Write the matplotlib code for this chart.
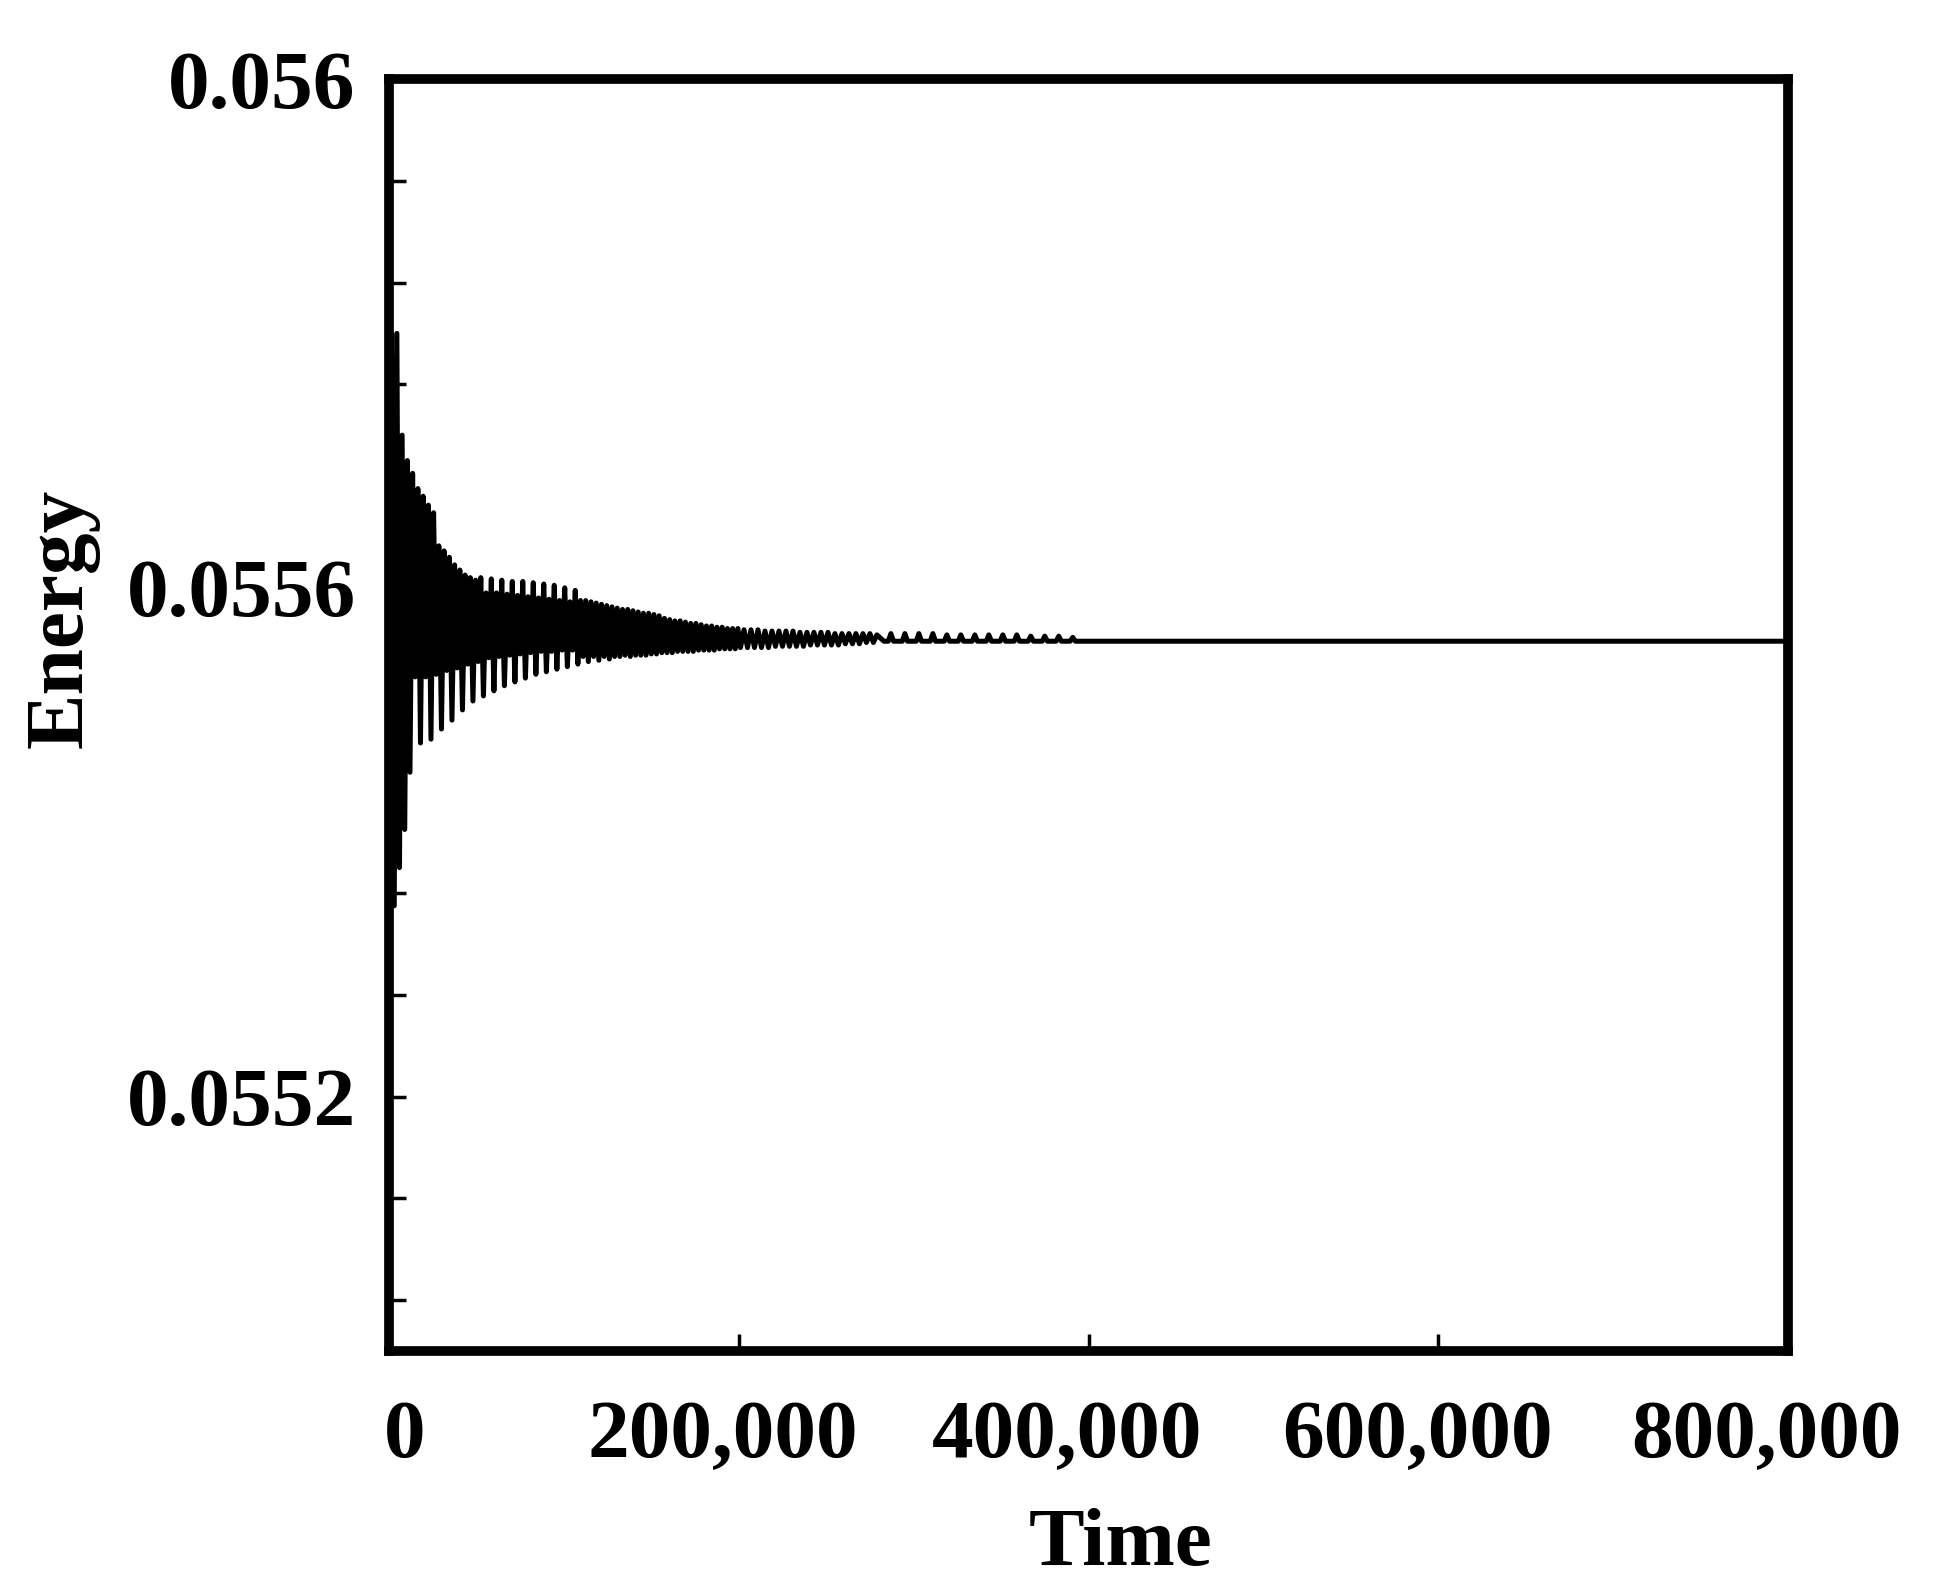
import numpy as np
import matplotlib
matplotlib.use("Agg")
import matplotlib.pyplot as plt
import matplotlib.transforms as mtransforms

plt.rcParams['path.simplify'] = False
plt.rcParams['font.family'] = ['Liberation Serif', 'DejaVu Serif']

# ---- data (time in thousands, energy) ----
time_a_k = [0, 1.5, 3, 4.5, 6, 7.5, 9, 10.5, 12, 13.5, 15, 16.5, 18, 19.5, 21, 22.5, 24, 25.5,
            27, 28.5, 30, 31.5, 33, 34.5, 36, 37.5, 39, 40.5, 42, 43.5, 45, 46.5, 48, 49.5,
            51, 52.5, 54, 55.5, 57, 58.5, 60, 61.5, 63, 64.5, 66, 67.5, 69, 70.5, 72, 73.5,
            75, 76.5, 78, 79.5, 81, 82.5, 84, 85.5, 87, 88.5, 90, 91.5, 93, 94.5, 96, 97.5,
            99, 100.5, 102, 103.5, 105, 106.5, 108, 109.5, 111, 112.5, 114, 115.5, 117, 118.5,
            120, 121.5, 123, 124.5, 126, 127.5, 129]
energy_a = [0.055557, 0.055800, 0.055350, 0.055800, 0.055380, 0.055720, 0.055410, 0.055700, 0.055455, 0.055690,
            0.055530, 0.055678, 0.055478, 0.055672, 0.055530, 0.055665, 0.055481, 0.055659, 0.055532, 0.055633,
            0.055489, 0.055629, 0.055535, 0.055624, 0.055496, 0.055618, 0.055537, 0.055614, 0.055504, 0.055610,
            0.055540, 0.055608, 0.055511, 0.055606, 0.055542, 0.055608, 0.055515, 0.055596, 0.055545, 0.055607,
            0.055519, 0.055596, 0.055546, 0.055606, 0.055523, 0.055595, 0.055547, 0.055605, 0.055526, 0.055594,
            0.055548, 0.055605, 0.055529, 0.055593, 0.055549, 0.055604, 0.055532, 0.055592, 0.055550, 0.055603,
            0.055534, 0.055591, 0.055550, 0.055602, 0.055536, 0.055590, 0.055551, 0.055600, 0.055538, 0.055589,
            0.055551, 0.055598, 0.055540, 0.055590, 0.055546, 0.055590, 0.055542, 0.055589, 0.055546, 0.055588,
            0.055543, 0.055587, 0.055546, 0.055586, 0.055544, 0.055585, 0.055546]

time_b_k = [130.5, 132, 133.5, 135, 136.5, 138, 139.5, 141, 142.5, 144, 145.5, 147, 148.5, 150,
            151.5, 153, 154.5, 156, 157.5, 159, 160.5, 162, 163.5, 165, 166.5, 168, 169.5, 171,
            172.5, 174, 175.5, 177, 178.5, 180, 181.5, 183, 184.5, 186, 187.5, 189, 190.5, 192,
            193.5, 195, 196.5, 198, 199.5]
energy_b = [0.055584, 0.055546, 0.055583, 0.055547, 0.055583, 0.055546, 0.055582, 0.055547, 0.055581, 0.055547,
            0.055580, 0.055547, 0.055580, 0.055548, 0.055579, 0.055548, 0.055578, 0.055549, 0.055576, 0.055549,
            0.055575, 0.055549, 0.055574, 0.055550, 0.055574, 0.055550, 0.055573, 0.055550, 0.055572, 0.055550,
            0.055572, 0.055551, 0.055571, 0.055551, 0.055570, 0.055551, 0.055570, 0.055551, 0.055569, 0.055552,
            0.055569, 0.055552, 0.055568, 0.055552, 0.055568, 0.055552, 0.055568]

time_c_k = [201, 203, 205, 207, 209, 211, 213, 215, 217, 219, 221, 223, 225, 227, 229, 231, 233, 235,
            237, 239, 241, 243, 245, 247, 249, 251, 253, 255, 257, 259, 261, 263, 265, 267, 269, 271,
            273, 275, 277, 279]
energy_c = [0.055553, 0.055567, 0.055553, 0.055567, 0.055553, 0.055567, 0.055553, 0.055566, 0.055553, 0.055566,
            0.055554, 0.055566, 0.055554, 0.055566, 0.055554, 0.055566, 0.055554, 0.055565, 0.055554, 0.055565,
            0.055555, 0.055565, 0.055555, 0.055565, 0.055555, 0.055565, 0.055555, 0.055564, 0.055555, 0.055564,
            0.055556, 0.055564, 0.055556, 0.055564, 0.055556, 0.055564, 0.055557, 0.055564, 0.055557, 0.055563]

time_d_k = [283, 285.5, 287, 288.5, 293.5, 295, 296.5, 301.5, 303, 304.5, 309.5, 311, 312.5,
            317.5, 319, 320.5, 325.5, 327, 328.5, 333.5, 335, 336.5, 341.5, 343, 344.5,
            349.5, 351, 352.5, 357.5, 359, 360.5, 365.5, 367, 368.5, 373.5, 375, 376.5,
            381.5, 383, 384.5, 389.5, 391, 392.5, 800]
energy_d = [0.055558, 0.055558, 0.055564, 0.055558, 0.055558, 0.055564, 0.055558, 0.055558, 0.055564, 0.055558,
            0.055558, 0.055564, 0.055558, 0.055558, 0.055563, 0.055558, 0.055558, 0.055563, 0.055558, 0.055558,
            0.055563, 0.055558, 0.055558, 0.055563, 0.055558, 0.055558, 0.055563, 0.055558, 0.055558, 0.055563,
            0.055558, 0.055558, 0.055562, 0.055558, 0.055558, 0.055562, 0.055558, 0.055558, 0.055562, 0.055558,
            0.055558, 0.055561, 0.055558, 0.055558]

x_ticks = [0, 200000, 400000, 600000, 800000]
x_tick_labels = ['0', '200,000', '400,000', '600,000', '800,000']
y_major = [0.0552, 0.0556, 0.0560]
y_major_labels = ['0.0552', '0.0556', '0.056']
y_minor = [0.05504, 0.05512, 0.05528, 0.05536, 0.05544, 0.05552,
           0.05568, 0.05576, 0.05584, 0.05592]

time = np.array(time_a_k + time_b_k + time_c_k + time_d_k) * 1000.0
energy = np.array(energy_a + energy_b + energy_c + energy_d)

# ---- figure ----
W, H = 1949, 1595
fig = plt.figure(figsize=(W / 100, H / 100), dpi=100)
left, right, top, bottom = 389, 1788, 79, 1351
ax = fig.add_axes([left / W, 1 - bottom / H, (right - left) / W, (bottom - top) / H])

ax.plot(time, energy, color='black', lw=3.6, solid_joinstyle='round')

ax.set_xlim(0, 800000)
ax.set_ylim(0.0550, 0.0560)

for sp in ax.spines.values():
    sp.set_linewidth(7)
    sp.set_color('black')

ax.set_xticks(x_ticks)
ax.set_xticklabels(x_tick_labels, fontsize=60, fontweight='bold')
ax.set_yticks(y_major)
ax.set_yticklabels(y_major_labels, fontsize=60, fontweight='bold')
ax.set_yticks(y_minor, minor=True)

ax.tick_params(axis='both', which='both', direction='in', length=12, width=2.5,
               color='black', top=False, right=False)
ax.tick_params(axis='x', which='major', pad=35)
ax.tick_params(axis='y', which='major', pad=24)

x_offsets = [16, -16, -21, -21, -21]
for lab, dx in zip(ax.get_xticklabels(), x_offsets):
    lab.set_transform(lab.get_transform() +
                      mtransforms.ScaledTranslation(dx / 100, 0, fig.dpi_scale_trans))

fig.text(62 / W, 1 - 618 / H, 'Energy', rotation=90, ha='center', va='center',
         fontsize=60, fontweight='bold')
fig.text(1121 / W, 1 - 1565 / H, 'Time', ha='center', va='baseline',
         fontsize=60, fontweight='bold')

fig.savefig('out.png', dpi=100, facecolor='white')
